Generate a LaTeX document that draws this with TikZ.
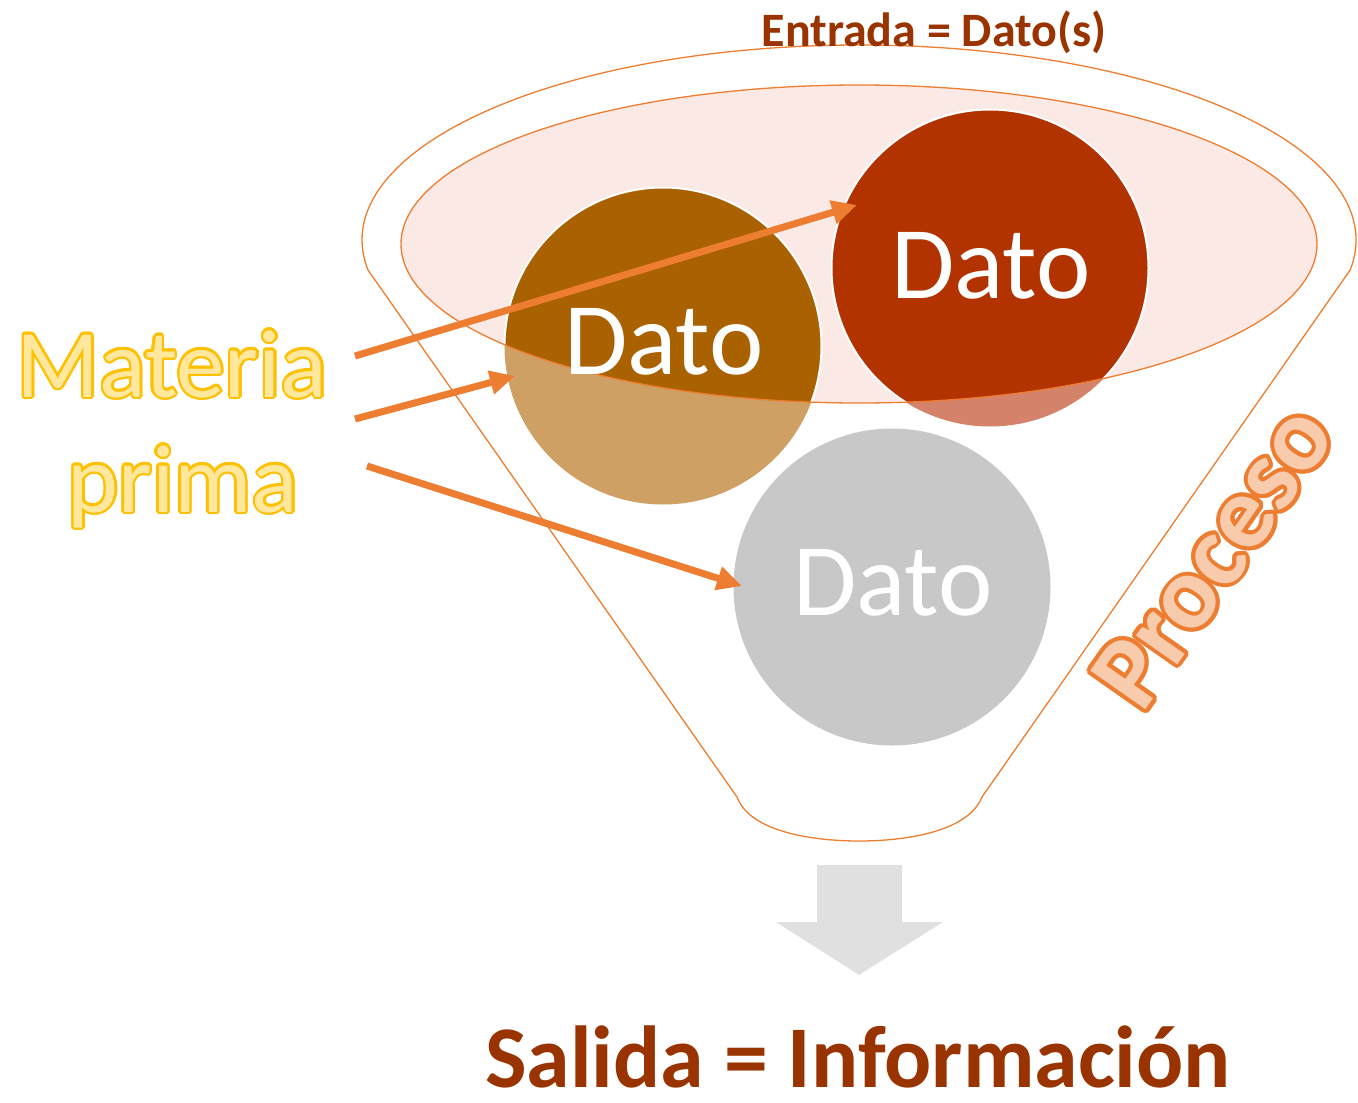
\documentclass[tikz,border=0pt]{standalone}
\usepackage{fontspec}
\setmainfont{Carlito}
\usetikzlibrary{arrows.meta,calc}
\definecolor{orng}{HTML}{ED7D31}
\definecolor{pinkfill}{HTML}{FBE9E5}
\definecolor{browndark}{HTML}{AA6100}
\definecolor{brownlight}{HTML}{CEA064}
\definecolor{reddark}{HTML}{B33300}
\definecolor{redlight}{HTML}{D4836A}
\definecolor{grayc}{HTML}{C8C8C8}
\definecolor{titlec}{HTML}{993300}
\definecolor{grayarrow}{HTML}{E0E0E0}
\definecolor{yelfill}{HTML}{FFE89E}
\definecolor{yelline}{HTML}{FFC000}
\definecolor{profill}{HTML}{F8CBAD}
\tikzset{
  funnel/.style={draw=orng, line width=1.3pt},
  datotext/.style={text=white, font=\fontsize{103}{106}\selectfont, inner sep=0pt, anchor=base},
  arr/.style={draw=orng, line width=7pt, -{Triangle[length=25pt,width=23pt]}},
  titletext/.style={text=titlec, inner sep=0pt, anchor=base},
}
\newcommand\outlinedtext[6]{%
  \foreach \ang in {0,22.5,...,337.5}{\node[#3, text=#4] at ($#2+(\ang:#5)$) {#6};}
  \node[#3] (#1) at #2 {#6};}
\begin{document}
\begin{tikzpicture}[x=1pt,y=-1pt]
\useasboundingbox (0,0) rectangle (1358,1103);
% funnel outline
\draw[funnel] (368,270) arc[start angle=188.85, end angle=-8.85, x radius=497pt, y radius=195pt]
  -- (982,797) .. controls (968,832) and (905,841) .. (859,841)
  .. controls (813,841) and (750,832) .. (737,797) -- cycle;
% inner ellipse fill
\fill[pinkfill] (859,244) ellipse[x radius=458pt, y radius=159pt];
% circles (light parts)
\node[circle, fill=brownlight, minimum size=317pt, inner sep=0pt] (c1) at (663,346) {};
\node[circle, fill=redlight, minimum size=317pt, inner sep=0pt] (c2) at (990,268) {};
\node[circle, fill=grayc, minimum size=317pt, inner sep=0pt] (c3) at (892,587) {};
% dark parts inside ellipse
\begin{scope}
  \clip (859,244) ellipse[x radius=458pt, y radius=159pt];
  \filldraw[fill=browndark, draw=white, line width=2pt] (663,346) circle[radius=158.5pt];
  \filldraw[fill=reddark, draw=white, line width=2pt] (990,268) circle[radius=158.5pt];
\end{scope}
\draw[orng, line width=1.3pt] (859,244) ellipse[x radius=458pt, y radius=159pt];
% Dato labels
\node[datotext] (d1) at (664,374) {Dato};
\node[datotext] (d2) at (991,298) {Dato};
\node[datotext] (d3) at (893,615) {Dato};
% gray output arrow
\fill[grayarrow] (817,865) -- (902,865) -- (902,922) -- (943,922) -- (859,975) -- (776,922) -- (817,922) -- cycle;
% arrows
\coordinate (s1) at (355,356);
\coordinate (e1) at (857,205);
\coordinate (s2) at (355,419);
\coordinate (e2) at (515,376);
\coordinate (s3) at (367,466);
\coordinate (e3) at (742,586);
\draw[arr] (s1) -- (e1);
\draw[arr] (s2) -- (e2);
\draw[arr] (s3) -- (e3);
% Materia prima
\outlinedtext{mat}{(172,397)}{text=yelfill, inner sep=0pt, anchor=base, font=\fontsize{97}{100}\selectfont}{yelline}{2.5pt}{Materia}
\outlinedtext{pri}{(183,512)}{text=yelfill, inner sep=0pt, anchor=base, font=\fontsize{97}{100}\selectfont}{yelline}{2.5pt}{prima}
% Proceso
\outlinedtext{pro}{(1213,556)}{text=profill, inner sep=0pt, rotate=55, font=\bfseries\fontsize{104}{108}\selectfont}{orng}{4pt}{Proceso}
% titles
\node[titletext, font=\bfseries\fontsize{48}{52}\selectfont] (entrada) at (934,46) {Entrada = Dato(s)};
\node[titletext, font=\bfseries\fontsize{88}{92}\selectfont] (salida) at (858,1087) {Salida = Información};
\end{tikzpicture}
\end{document}
